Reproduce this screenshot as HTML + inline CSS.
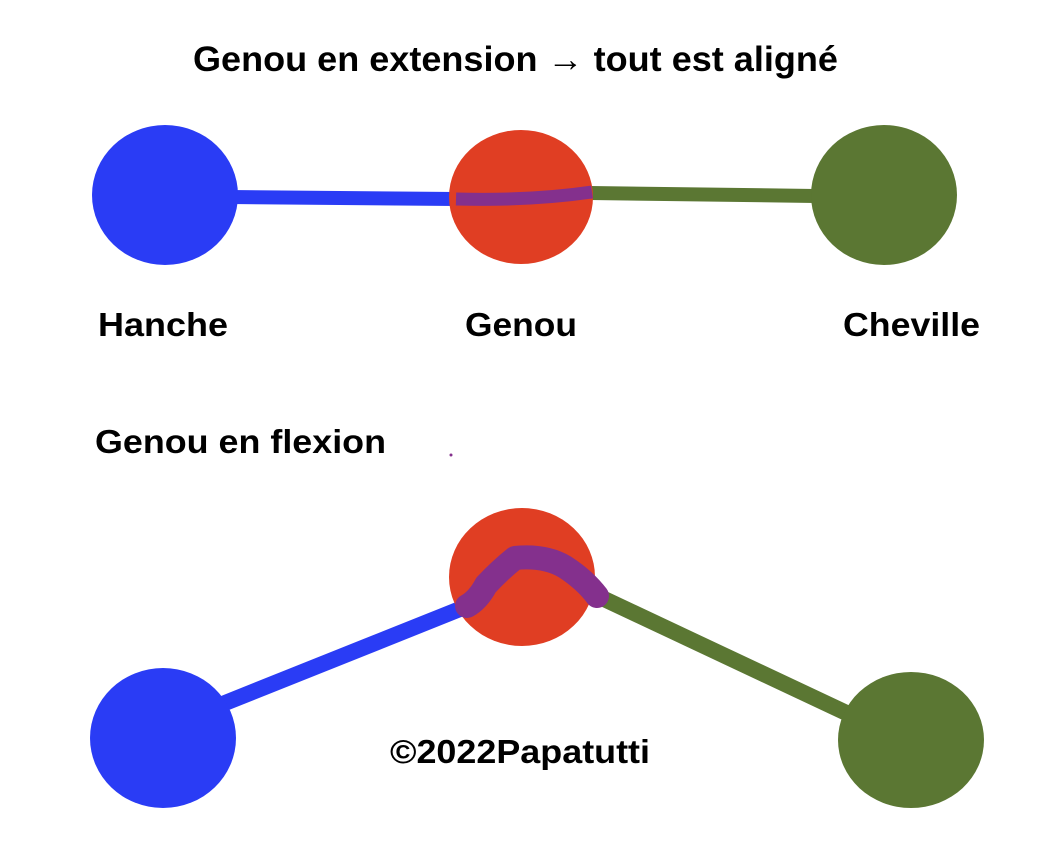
<!DOCTYPE html>
<html><head><meta charset="utf-8"><style>
html,body{margin:0;padding:0;background:#fff;}
svg{display:block;}
text{font-family:"Liberation Sans",Arial,sans-serif;font-weight:bold;fill:#000;}
</style></head><body>
<svg width="1052" height="846" viewBox="0 0 1052 846" xmlns="http://www.w3.org/2000/svg">
<text x="193" y="71" font-size="35" textLength="645" lengthAdjust="spacingAndGlyphs">Genou en extension → tout est aligné</text>
<!-- top row -->
<line x1="230" y1="197" x2="456" y2="199" stroke="#2a3cf5" stroke-width="14"/>
<line x1="590" y1="193" x2="815" y2="196" stroke="#5b7733" stroke-width="14"/>
<ellipse cx="165" cy="195" rx="73" ry="70" fill="#2a3cf5"/>
<ellipse cx="521" cy="197" rx="72" ry="67" fill="#e03e23"/>
<ellipse cx="884" cy="195" rx="73" ry="70" fill="#5b7733"/>
<path d="M456 199 Q530 201 592 192" stroke="#84308d" stroke-width="13" fill="none"/>
<text x="98" y="336" font-size="33" textLength="130" lengthAdjust="spacingAndGlyphs">Hanche</text>
<text x="465" y="336" font-size="33" textLength="112" lengthAdjust="spacingAndGlyphs">Genou</text>
<text x="843" y="336" font-size="33" textLength="137" lengthAdjust="spacingAndGlyphs">Cheville</text>
<text x="95" y="453" font-size="33" textLength="291" lengthAdjust="spacingAndGlyphs">Genou en flexion</text>
<circle cx="451" cy="455" r="1.5" fill="#84308d"/>
<!-- bottom row -->
<line x1="215" y1="707" x2="475" y2="603" stroke="#2a3cf5" stroke-width="16"/>
<line x1="585" y1="590" x2="855" y2="717" stroke="#5b7733" stroke-width="16"/>
<ellipse cx="163" cy="738" rx="73" ry="70" fill="#2a3cf5"/>
<ellipse cx="522" cy="577" rx="73" ry="69" fill="#e03e23"/>
<ellipse cx="911" cy="740" rx="73" ry="68" fill="#5b7733"/>
<path d="M467 606 Q478 600 486 585 Q500 570 515 558 Q545 555 565 567 Q585 580 597 596" stroke="#84308d" stroke-width="24" fill="none" stroke-linecap="round" stroke-linejoin="round"/>
<text x="390" y="763" font-size="33" textLength="260" lengthAdjust="spacingAndGlyphs">©2022Papatutti</text>
</svg>
</body></html>
